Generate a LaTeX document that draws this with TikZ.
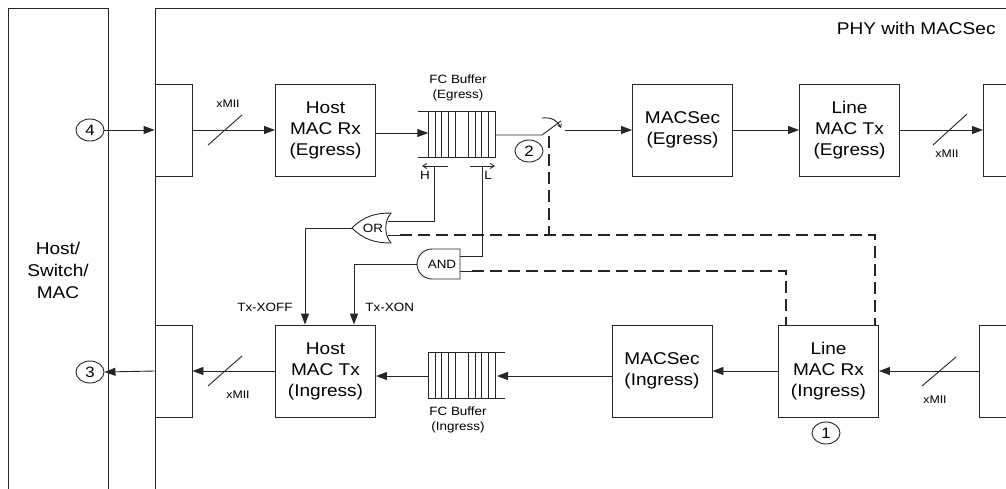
\documentclass[tikz,border=0pt]{standalone}
\usepackage{fontspec}
\setmainfont{Liberation Sans}[FakeStretch=1.12]
\usetikzlibrary{arrows.meta,shapes.geometric}
\begin{document}
\begin{tikzpicture}[x=1pt,y=-1pt,
  line width=0.9pt, draw=black!85,
  box/.style={draw, minimum width=100pt, minimum height=92pt, align=center, inner sep=0pt, font=\fontsize{17}{21}\selectfont},
  adp/.style={draw, minimum width=37pt, minimum height=92pt, inner sep=0pt},
  num/.style={draw, ellipse, minimum width=28pt, minimum height=22pt, inner sep=0pt, font=\fontsize{15}{15}\selectfont},
  sm/.style={inner sep=0pt, align=center, font=\fontsize{12}{15}\selectfont},
  xmii/.style={inner sep=0pt, font=\fontsize{11}{13}\selectfont},
  arr/.style={-{Triangle[length=11pt,width=8pt]}},
  harr/.style={-{Straight Barb[length=4pt,width=5pt]}},
  ctrl/.style={line width=1.6pt, dash pattern=on 12pt off 6pt}]
\useasboundingbox (0,0) rectangle (1006,488);
\clip (0,0) rectangle (1006,488);
% outer frames
\draw (8,8) rectangle (108,520);
\draw (155,8) rectangle (1040,520);
\node[anchor=east, inner sep=0pt, font=\fontsize{17}{20}\selectfont] (title) at (996,28) {PHY with MACSec};
\node[align=center, inner sep=0pt, font=\fontsize{17}{22}\selectfont] (host) at (58,270) {Host/\\Switch/\\MAC};
% numbered circles
\node[num] (c4) at (90,130) {4};
\node[num] (c3) at (90,372) {3};
\node[num] (c2) at (529,151) {2};
\node[num] (c1) at (826,433) {1};
% adapters
\node[adp] (adT) at (173.5,130) {};
\node[adp] (adB) at (173.5,371) {};
\node[draw, minimum width=60pt, minimum height=92pt, anchor=west] (rT) at (983,130) {};
\node[draw, minimum width=60pt, minimum height=92pt, anchor=west] (rB) at (979,371) {};
% main boxes
\node[box] (hrx) at (325.5,130) {Host\\MAC Rx\\(Egress)};
\node[box] (mse) at (682.5,130) {MACSec\\(Egress)};
\node[box] (ltx) at (849.5,130) {Line\\MAC Tx\\(Egress)};
\node[box] (htx) at (325.5,371) {Host\\MAC Tx\\(Ingress)};
\node[box] (msi) at (662,371) {MACSec\\(Ingress)};
\node[box] (lrx) at (828.5,371) {Line\\MAC Rx\\(Ingress)};
% FC buffers
\node[minimum width=78pt, minimum height=45pt, inner sep=0pt] (bufE) at (457,134.5) {};
\node[minimum width=77pt, minimum height=45pt, inner sep=0pt] (bufI) at (466.5,375.5) {};
\draw (bufE.north west) -- (bufE.north east) (bufE.south west) -- (bufE.south east);
\draw (bufI.north west) -- (bufI.north east) (bufI.south west) -- (bufI.south east);
\foreach \x in {428.3,435,441.7,448.3,455,468.3,475,481.7,488.3,495}{
  \draw (\x,112) -- (\x,157);
  \draw (\x,353) -- (\x,398);
}
\node[sm] (fcE) at (458,88) {FC Buffer\\(Egress)};
\node[sm] (fcI) at (458,420) {FC Buffer\\(Ingress)};
% watermark markers H / L
\coordinate (hA) at (448,166);
\coordinate (hB) at (422,166);
\coordinate (lA) at (470,166);
\coordinate (lB) at (495,166);
\draw[harr] (hA) -- (hB);
\draw[harr] (lA) -- (lB);
\node[sm] (hlab) at (425,175) {H};
\node[sm] (llab) at (488,175) {L};
% top row connectors
\draw[arr] (c4.east) -- (adT.west |- c4.east);
\draw[arr] (adT.east) -- (hrx.west);
\draw (208,145) -- (242,115);
\node[xmii] (x1) at (228,104) {xMII};
\draw[arr] (hrx.east |- 0,133) -- (428.3,133);
% switch
\coordinate (swIn) at (542,135);
\coordinate (swTop) at (561,121);
\coordinate (swOut) at (565,130);
\draw (495,135) -- (swIn) -- (swTop);
\draw[-{Straight Barb[length=3pt,width=4pt]}] (542,118) .. controls (552,117) and (558,121) .. (561,128);
\draw[arr] (swOut) -- (mse.west |- swOut);
\draw[arr] (mse.east) -- (ltx.west);
\draw[arr] (ltx.east) -- (rT.west);
\draw (933,145) -- (967,114);
\node[xmii] (x2) at (947,154) {xMII};
% bottom row connectors
\draw[arr] (rB.west) -- (lrx.east);
\draw (922,386) -- (956,357);
\node[xmii] (x3) at (935,400) {xMII};
\draw[arr] (lrx.west) -- (msi.east);
\draw[arr] (msi.west |- 0,376) -- (497,376);
\draw[arr] (428.3,376) -- (htx.east |- 0,376);
\draw[arr] (htx.west) -- (adB.east);
\draw (208,386) -- (242,356);
\node[xmii] (x4) at (238,395) {xMII};
\draw[arr] (adB.west) -- (c3.east);
% logic gates
\draw (352,228) .. controls (364,216) and (376,213) .. (391,213)
      .. controls (384,222) and (384,234) .. (391,243)
      .. controls (376,243) and (364,240) .. (352,228) -- cycle;
\node[sm] (orG) at (373,228) {OR};
\draw (460,249) -- (432,249) arc[start angle=270, end angle=90, radius=15] -- (460,279) -- cycle;
\node[sm] (andG) at (442,264) {AND};
% H -> OR, L -> AND
\draw (434,166) |- (388,221);
\draw (482,166) |- (460,256);
% gate outputs to Host MAC Tx
\draw[arr] (352,228) -| (htx.north -| 305,0);
\draw[arr] (417,264) -| (htx.north -| 354,0);
\node[sm, anchor=east] (xoff) at (293,307) {Tx-XOFF};
\node[sm, anchor=west] (xon) at (365,307) {Tx-XON};
% control (dashed) lines
\coordinate (orIn) at (388,235);
\coordinate (andIn) at (460,271);
\coordinate (j1) at (875,235);
\coordinate (j2) at (786,271);
\coordinate (swCtl) at (549,136);
\draw (orIn) -- (400,235);
\draw (andIn) -- (472,271);
\draw[ctrl] (400,235) -- (j1) -- (j1 |- lrx.north);
\draw[ctrl] (472,271) -- (j2) -- (j2 |- lrx.north);
\draw[ctrl] (swCtl) -- (swCtl |- j1);
\end{tikzpicture}
\end{document}
